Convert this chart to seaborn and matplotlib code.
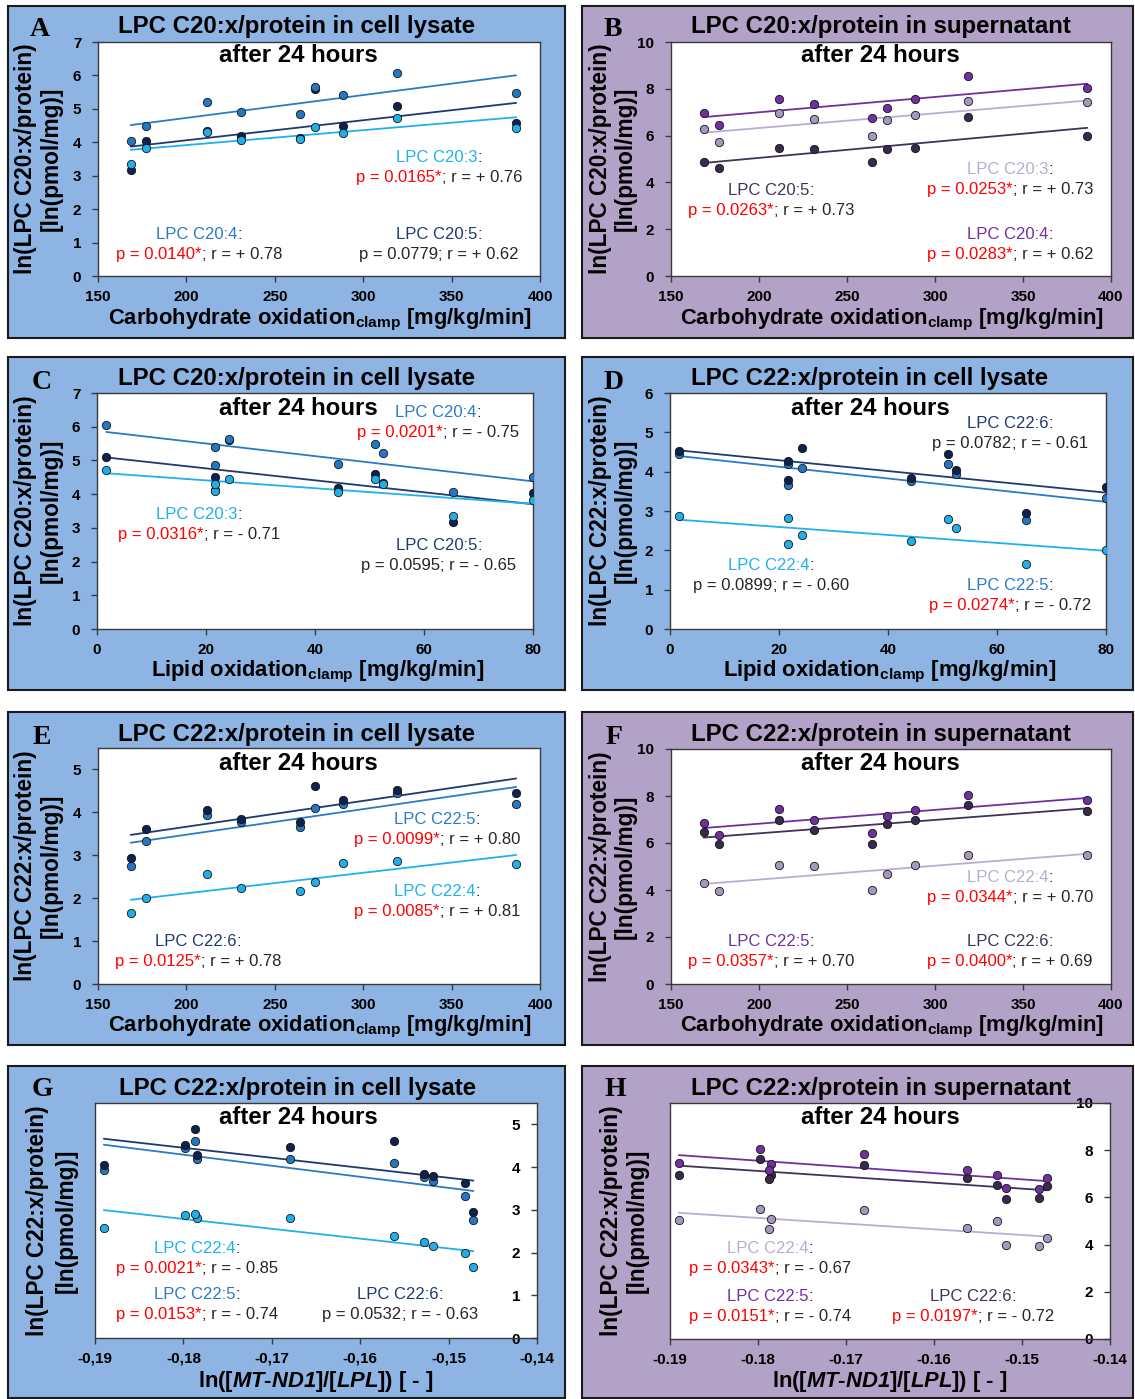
import numpy as np
import pandas as pd
import seaborn as sns
import matplotlib
matplotlib.use("Agg")
import matplotlib.pyplot as plt
from matplotlib.patches import Rectangle

# ---------------- data ----------------
# subjects S1..S10 (S10 has no clamp data)
carb_ox = [168.5, 177, 211.5, 231, 264, 272.5, 288.5, 319, 386.5, np.nan]
lipid_ox = [65.3, 80, 52.5, 44.3, 21.6, 24.2, 21.6, 1.7, 51.0, np.nan]
mtnd1_lpl = [-0.1472, -0.1481, -0.1890, -0.1528, -0.1518, -0.1562, -0.1785, -0.1798, -0.1679, -0.1787]

lys_c20_3 = [3.36, 3.82, 4.30, 4.07, 4.10, 4.45, 4.29, 4.73, 4.44, np.nan]
lys_c20_4 = [4.05, 4.50, 5.22, 4.90, 4.85, 5.65, 5.40, 6.06, 5.48, np.nan]
lys_c20_5 = [3.18, 4.04, 4.33, 4.19, 4.12, 5.60, 4.50, 5.10, 4.59, np.nan]

sup_c20_3 = [6.30, 5.74, 6.98, 6.69, 5.98, 6.67, 6.88, 7.49, 7.44, np.nan]
sup_c20_4 = [6.97, 6.46, 7.56, 7.35, 6.74, 7.18, 7.55, 8.53, 8.02, np.nan]
sup_c20_5 = [4.87, 4.63, 5.48, 5.44, 4.87, 5.42, 5.48, 6.81, 6.00, np.nan]

lys_c22_4 = [1.66, 2.00, 2.57, 2.24, 2.16, 2.38, 2.82, 2.87, 2.80, 2.91]
lys_c22_5 = [2.76, 3.33, 3.94, 3.77, 3.67, 4.10, 4.20, 4.44, 4.20, 4.61]
lys_c22_6 = [2.94, 3.62, 4.05, 3.85, 3.78, 4.61, 4.28, 4.52, 4.46, 4.90]

sup_c22_4 = [4.28, 3.96, 5.05, 5.01, 3.99, 4.70, 5.08, 5.49, 5.48, 4.65]
sup_c22_5 = [6.84, 6.34, 7.46, 6.96, 6.41, 7.16, 7.41, 8.03, 7.83, 7.16]
sup_c22_6 = [6.47, 5.96, 6.96, 6.54, 5.94, 6.82, 6.96, 7.63, 7.38, 6.80]

carb_ticks = [150, 200, 250, 300, 350, 400]
lipid_ticks = [0, 20, 40, 60, 80]
mt_ticks = [-0.19, -0.18, -0.17, -0.16, -0.15, -0.14]
mt_labels_comma = ["-0,19", "-0,18", "-0,17", "-0,16", "-0,15", "-0,14"]
mt_labels_dot = ["-0.19", "-0.18", "-0.17", "-0.16", "-0.15", "-0.14"]

# ---------------- style ----------------
sns.set_style("white")
plt.rcParams["font.family"] = ["Liberation Sans", "DejaVu Sans"]
plt.rcParams["mathtext.fontset"] = "custom"
plt.rcParams["mathtext.rm"] = "Liberation Sans"
plt.rcParams["mathtext.bf"] = "Liberation Sans:bold"
plt.rcParams["mathtext.it"] = "Liberation Sans:italic"
plt.rcParams["mathtext.bfit"] = "Liberation Sans:italic:bold"

BLUE_BG = "#8EB4E3"
PURP_BG = "#B3A2C7"
TXT = "#262626"
RED = "#FF0000"

L_LIGHT, L_MID, L_DARK = "#1DB1EE", "#2A7BC4", "#1F3A6E"
L_LIGHT_M, L_MID_M, L_DARK_M = "#22AEE8", "#2477C2", "#0E2250"
S_LIGHT, S_MID, S_DARK = "#B9ABD3", "#7030A0", "#41325A"
S_LIGHT_M, S_MID_M, S_DARK_M = "#A597BF", "#7030A0", "#382A4E"

W, H = 1135, 1399
fig = plt.figure(figsize=(W / 100, H / 100), dpi=100)
renderer = fig.canvas.get_renderer()


def fx(x):
    return x / W


def fy(y):
    return 1 - y / H


def px_axes(x0, y0, x1, y1):
    return fig.add_axes([x0 / W, 1 - y1 / H, (x1 - x0) / W, (y1 - y0) / H])


def text_width(s, size):
    t = fig.text(0, 0, s, fontsize=size)
    w = t.get_window_extent(renderer).width
    t.remove()
    return w


def colored_line(cx, cy, pieces, size=12):
    widths = [text_width(s, size) for s, _ in pieces]
    x = cx - sum(widths) / 2
    for (s, c), w in zip(pieces, widths):
        fig.text(fx(x), fy(cy + 6), s, ha="left", va="baseline", fontsize=size,
                 color=c, zorder=6)
        x += w


def stat_block(name, color, pval, sig, rtxt, cx, cy):
    colored_line(cx, cy, [(name, color), (":", TXT)])
    colored_line(cx, cy + 20,
                 [("p = " + pval + ("*" if sig else ""), RED if sig else TXT),
                  ("; r = " + rtxt, TXT)])


def series(ax, x, y, lcolor, mcolor):
    sns.regplot(x=np.asarray(x, float), y=np.asarray(y, float), ax=ax, ci=None,
                truncate=True,
                scatter_kws=dict(s=36, color=mcolor, edgecolors="#151515",
                                 linewidths=0.6, alpha=1, zorder=3),
                line_kws=dict(color=lcolor, lw=1.3, zorder=2))


CARB_LABEL = r"Carbohydrate oxidation$_{\mathbf{clamp}}$ [mg/kg/min]"
LIPID_LABEL = r"Lipid oxidation$_{\mathbf{clamp}}$ [mg/kg/min]"
MT_LABEL = r"ln([$\mathbfit{MT}$-$\mathbfit{ND1}$]/[$\mathbfit{LPL}$]) [ - ]"

lys = [(L_LIGHT, L_LIGHT_M), (L_MID, L_MID_M), (L_DARK, L_DARK_M)]
sup = [(S_LIGHT, S_LIGHT_M), (S_MID, S_MID_M), (S_DARK, S_DARK_M)]

panels = [
    dict(key="A", frame=(8, 6, 565, 338), bg=BLUE_BG, box=(98, 42, 540, 276),
         x=carb_ox, ys=[lys_c20_5, lys_c20_4, lys_c20_3], cols=[lys[2], lys[1], lys[0]],
         xlim=(150, 400), xticks=carb_ticks, xlabels=[str(v) for v in carb_ticks],
         ylim=(0, 7), yticks=list(range(0, 8)), right=False,
         title="LPC C20:x/protein in cell lysate", tpos=(297, 27), apos=(298, 56),
         ylab="ln(LPC C20:x/protein)", ylx=(26, 51), xlab=CARB_LABEL, xlpos=(320, 320),
         letter=(40, 30),
         stats=[("LPC C20:3", L_LIGHT, "0.0165", True, "+ 0.76", 439, 156),
                ("LPC C20:4", L_MID, "0.0140", True, "+ 0.78", 199, 233),
                ("LPC C20:5", L_DARK, "0.0779", False, "+ 0.62", 439, 233)]),
    dict(key="B", frame=(582, 6, 1133, 338), bg=PURP_BG, box=(671, 42, 1111, 276),
         x=carb_ox, ys=[sup_c20_5, sup_c20_3, sup_c20_4], cols=[sup[2], sup[0], sup[1]],
         xlim=(150, 400), xticks=carb_ticks, xlabels=[str(v) for v in carb_ticks],
         ylim=(0, 10), yticks=[0, 2, 4, 6, 8, 10], right=False,
         title="LPC C20:x/protein in supernatant", tpos=(881, 27), apos=(880, 56),
         ylab="ln(LPC C20:x/protein)", ylx=(600, 625), xlab=CARB_LABEL, xlpos=(892, 320),
         letter=(613, 30),
         stats=[("LPC C20:5", S_DARK, "0.0263", True, "+ 0.73", 771, 189),
                ("LPC C20:3", S_LIGHT, "0.0253", True, "+ 0.73", 1010, 168),
                ("LPC C20:4", S_MID, "0.0283", True, "+ 0.62", 1010, 233)]),
    dict(key="C", frame=(8, 357, 565, 690), bg=BLUE_BG, box=(97, 393, 533, 629),
         x=lipid_ox, ys=[lys_c20_5, lys_c20_4, lys_c20_3], cols=[lys[2], lys[1], lys[0]],
         xlim=(0, 80), xticks=lipid_ticks, xlabels=[str(v) for v in lipid_ticks],
         ylim=(0, 7), yticks=list(range(0, 8)), right=False,
         title="LPC C20:x/protein in cell lysate", tpos=(297, 379), apos=(298, 408),
         ylab="ln(LPC C20:x/protein)", ylx=(26, 51), xlab=LIPID_LABEL, xlpos=(318, 672),
         letter=(42, 382),
         stats=[("LPC C20:4", L_MID, "0.0201", True, "- 0.75", 438, 411),
                ("LPC C20:3", L_LIGHT, "0.0316", True, "- 0.71", 199, 513),
                ("LPC C20:5", L_DARK, "0.0595", False, "- 0.65", 439, 544)]),
    dict(key="D", frame=(582, 357, 1133, 690), bg=BLUE_BG, box=(670, 393, 1106, 629),
         x=lipid_ox, ys=[lys_c22_4, lys_c22_5, lys_c22_6], cols=[lys[0], lys[1], lys[2]],
         xlim=(0, 80), xticks=lipid_ticks, xlabels=[str(v) for v in lipid_ticks],
         ylim=(0, 6), yticks=list(range(0, 7)), right=False,
         title="LPC C22:x/protein in cell lysate", tpos=(870, 379), apos=(870, 408),
         ylab="ln(LPC C22:x/protein)", ylx=(600, 625), xlab=LIPID_LABEL, xlpos=(890, 672),
         letter=(614, 382),
         stats=[("LPC C22:6", L_DARK, "0.0782", False, "- 0.61", 1010, 422),
                ("LPC C22:4", L_LIGHT, "0.0899", False, "- 0.60", 771, 564),
                ("LPC C22:5", L_MID, "0.0274", True, "- 0.72", 1010, 584)]),
    dict(key="E", frame=(8, 712, 565, 1045), bg=BLUE_BG, box=(98, 748, 540, 984),
         x=carb_ox, ys=[lys_c22_4, lys_c22_5, lys_c22_6], cols=[lys[0], lys[1], lys[2]],
         xlim=(150, 400), xticks=carb_ticks, xlabels=[str(v) for v in carb_ticks],
         ylim=(0, 5.5), yticks=list(range(0, 6)), right=False,
         title="LPC C22:x/protein in cell lysate", tpos=(297, 735), apos=(298, 763),
         ylab="ln(LPC C22:x/protein)", ylx=(26, 51), xlab=CARB_LABEL, xlpos=(320, 1027),
         letter=(42, 738),
         stats=[("LPC C22:5", L_MID, "0.0099", True, "+ 0.80", 437, 818),
                ("LPC C22:4", L_LIGHT, "0.0085", True, "+ 0.81", 437, 890),
                ("LPC C22:6", L_DARK, "0.0125", True, "+ 0.78", 198, 940)]),
    dict(key="F", frame=(582, 712, 1133, 1045), bg=PURP_BG, box=(671, 749, 1111, 984),
         x=carb_ox, ys=[sup_c22_4, sup_c22_6, sup_c22_5], cols=[sup[0], sup[2], sup[1]],
         xlim=(150, 400), xticks=carb_ticks, xlabels=[str(v) for v in carb_ticks],
         ylim=(0, 10), yticks=[0, 2, 4, 6, 8, 10], right=False,
         title="LPC C22:x/protein in supernatant", tpos=(881, 735), apos=(880, 763),
         ylab="ln(LPC C22:x/protein)", ylx=(600, 625), xlab=CARB_LABEL, xlpos=(892, 1027),
         letter=(614, 738),
         stats=[("LPC C22:4", S_LIGHT, "0.0344", True, "+ 0.70", 1010, 876),
                ("LPC C22:5", S_MID, "0.0357", True, "+ 0.70", 771, 940),
                ("LPC C22:6", S_DARK, "0.0400", True, "+ 0.69", 1010, 940)]),
    dict(key="G", frame=(8, 1066, 565, 1398), bg=BLUE_BG, box=(95, 1103, 537, 1338),
         x=mtnd1_lpl, ys=[lys_c22_4, lys_c22_5, lys_c22_6], cols=[lys[0], lys[1], lys[2]],
         xlim=(-0.19, -0.14), xticks=mt_ticks, xlabels=mt_labels_comma,
         ylim=(0, 5.5), yticks=list(range(0, 6)), right=True,
         title="LPC C22:x/protein in cell lysate", tpos=(298, 1089), apos=(298, 1117),
         ylab="ln(LPC C22:x/protein)", ylx=(38, 66), xlab=MT_LABEL, xlpos=(316, 1381),
         letter=(42, 1090),
         stats=[("LPC C22:4", L_LIGHT, "0.0021", True, "- 0.85", 197, 1247),
                ("LPC C22:5", L_MID, "0.0153", True, "- 0.74", 197, 1293),
                ("LPC C22:6", L_DARK, "0.0532", False, "- 0.63", 400, 1293)]),
    dict(key="H", frame=(582, 1066, 1133, 1398), bg=PURP_BG, box=(670, 1103, 1110, 1339),
         x=mtnd1_lpl, ys=[sup_c22_4, sup_c22_6, sup_c22_5], cols=[sup[0], sup[2], sup[1]],
         xlim=(-0.19, -0.14), xticks=mt_ticks, xlabels=mt_labels_dot,
         ylim=(0, 10), yticks=[0, 2, 4, 6, 8, 10], right=True,
         title="LPC C22:x/protein in supernatant", tpos=(881, 1089), apos=(880, 1117),
         ylab="ln(LPC C22:x/protein)", ylx=(611, 637), xlab=MT_LABEL, xlpos=(890, 1381),
         letter=(615, 1090),
         stats=[("LPC C22:4", S_LIGHT, "0.0343", True, "- 0.67", 770, 1247),
                ("LPC C22:5", S_MID, "0.0151", True, "- 0.74", 770, 1295),
                ("LPC C22:6", S_DARK, "0.0197", True, "- 0.72", 973, 1295)]),
]

for p in panels:
    x0, y0, x1, y1 = p["frame"]
    fig.patches.append(Rectangle((fx(x0), fy(y1)), (x1 - x0) / W, (y1 - y0) / H,
                                 transform=fig.transFigure, facecolor=p["bg"],
                                 edgecolor="#1a1a1a", lw=1.5, zorder=-10))
    ax = px_axes(*p["box"])
    ax.set_facecolor("white")
    for yv, (lc, mc) in zip(p["ys"], p["cols"]):
        series(ax, p["x"], yv, lc, mc)
    ax.set_xlim(*p["xlim"])
    ax.set_ylim(*p["ylim"])
    ax.set_xlabel("")
    ax.set_ylabel("")
    for s in ax.spines.values():
        s.set_visible(True)
        s.set_color("#3a3a3a")
        s.set_linewidth(1.0)
    ax.tick_params(axis="x", bottom=True, top=False, direction="out", length=4,
                   width=1, color="#3a3a3a", pad=6, labelsize=11)
    ax.set_xticks(p["xticks"], p["xlabels"], fontweight="bold", fontsize=11, color="black")
    if p["right"]:
        ax.yaxis.tick_right()
        ax.tick_params(axis="y", left=False, right=True, labelleft=False, labelright=True,
                       direction="in", length=4, width=1, color="#3a3a3a", pad=-12,
                       labelsize=11)
        ax.set_yticks(p["yticks"], [str(v) for v in p["yticks"]], fontweight="bold",
                      fontsize=11, ha="right", color="black")
    else:
        ax.tick_params(axis="y", left=True, right=False, direction="out", length=4,
                       width=1, color="#3a3a3a", pad=8, labelsize=11)
        ax.set_yticks(p["yticks"], [str(v) for v in p["yticks"]], fontweight="bold",
                      fontsize=11, color="black")

    for name, col, pv, sig, rt, cx, cy in p["stats"]:
        stat_block(name, col, pv, sig, rt, cx, cy)

    fig.text(fx(p["tpos"][0]), fy(p["tpos"][1]), p["title"], ha="center", va="center",
             fontsize=17.3, fontweight="bold", color="black")
    fig.text(fx(p["apos"][0]), fy(p["apos"][1]), "after 24 hours", ha="center",
             va="center", fontsize=17.3, fontweight="bold", color="black", zorder=7)
    cyl = (p["box"][1] + p["box"][3]) / 2
    fig.text(fx(p["ylx"][0]), fy(cyl), p["ylab"], rotation=90, ha="center", va="center",
             fontsize=16.3, fontweight="bold", color="black")
    fig.text(fx(p["ylx"][1]), fy(cyl), "[ln(pmol/mg)]", rotation=90, ha="center",
             va="center", fontsize=16.3, fontweight="bold", color="black")
    fig.text(fx(p["xlpos"][0]), fy(p["xlpos"][1]), p["xlab"], ha="center", va="center",
             fontsize=15.8, fontweight="bold", color="black")
    fig.text(fx(p["letter"][0]), fy(p["letter"][1]), p["key"], ha="center", va="center",
             fontsize=20, fontweight="bold", family=["Liberation Serif", "DejaVu Serif"],
             color="black")

fig.savefig("out.png", dpi=100, facecolor="white")
